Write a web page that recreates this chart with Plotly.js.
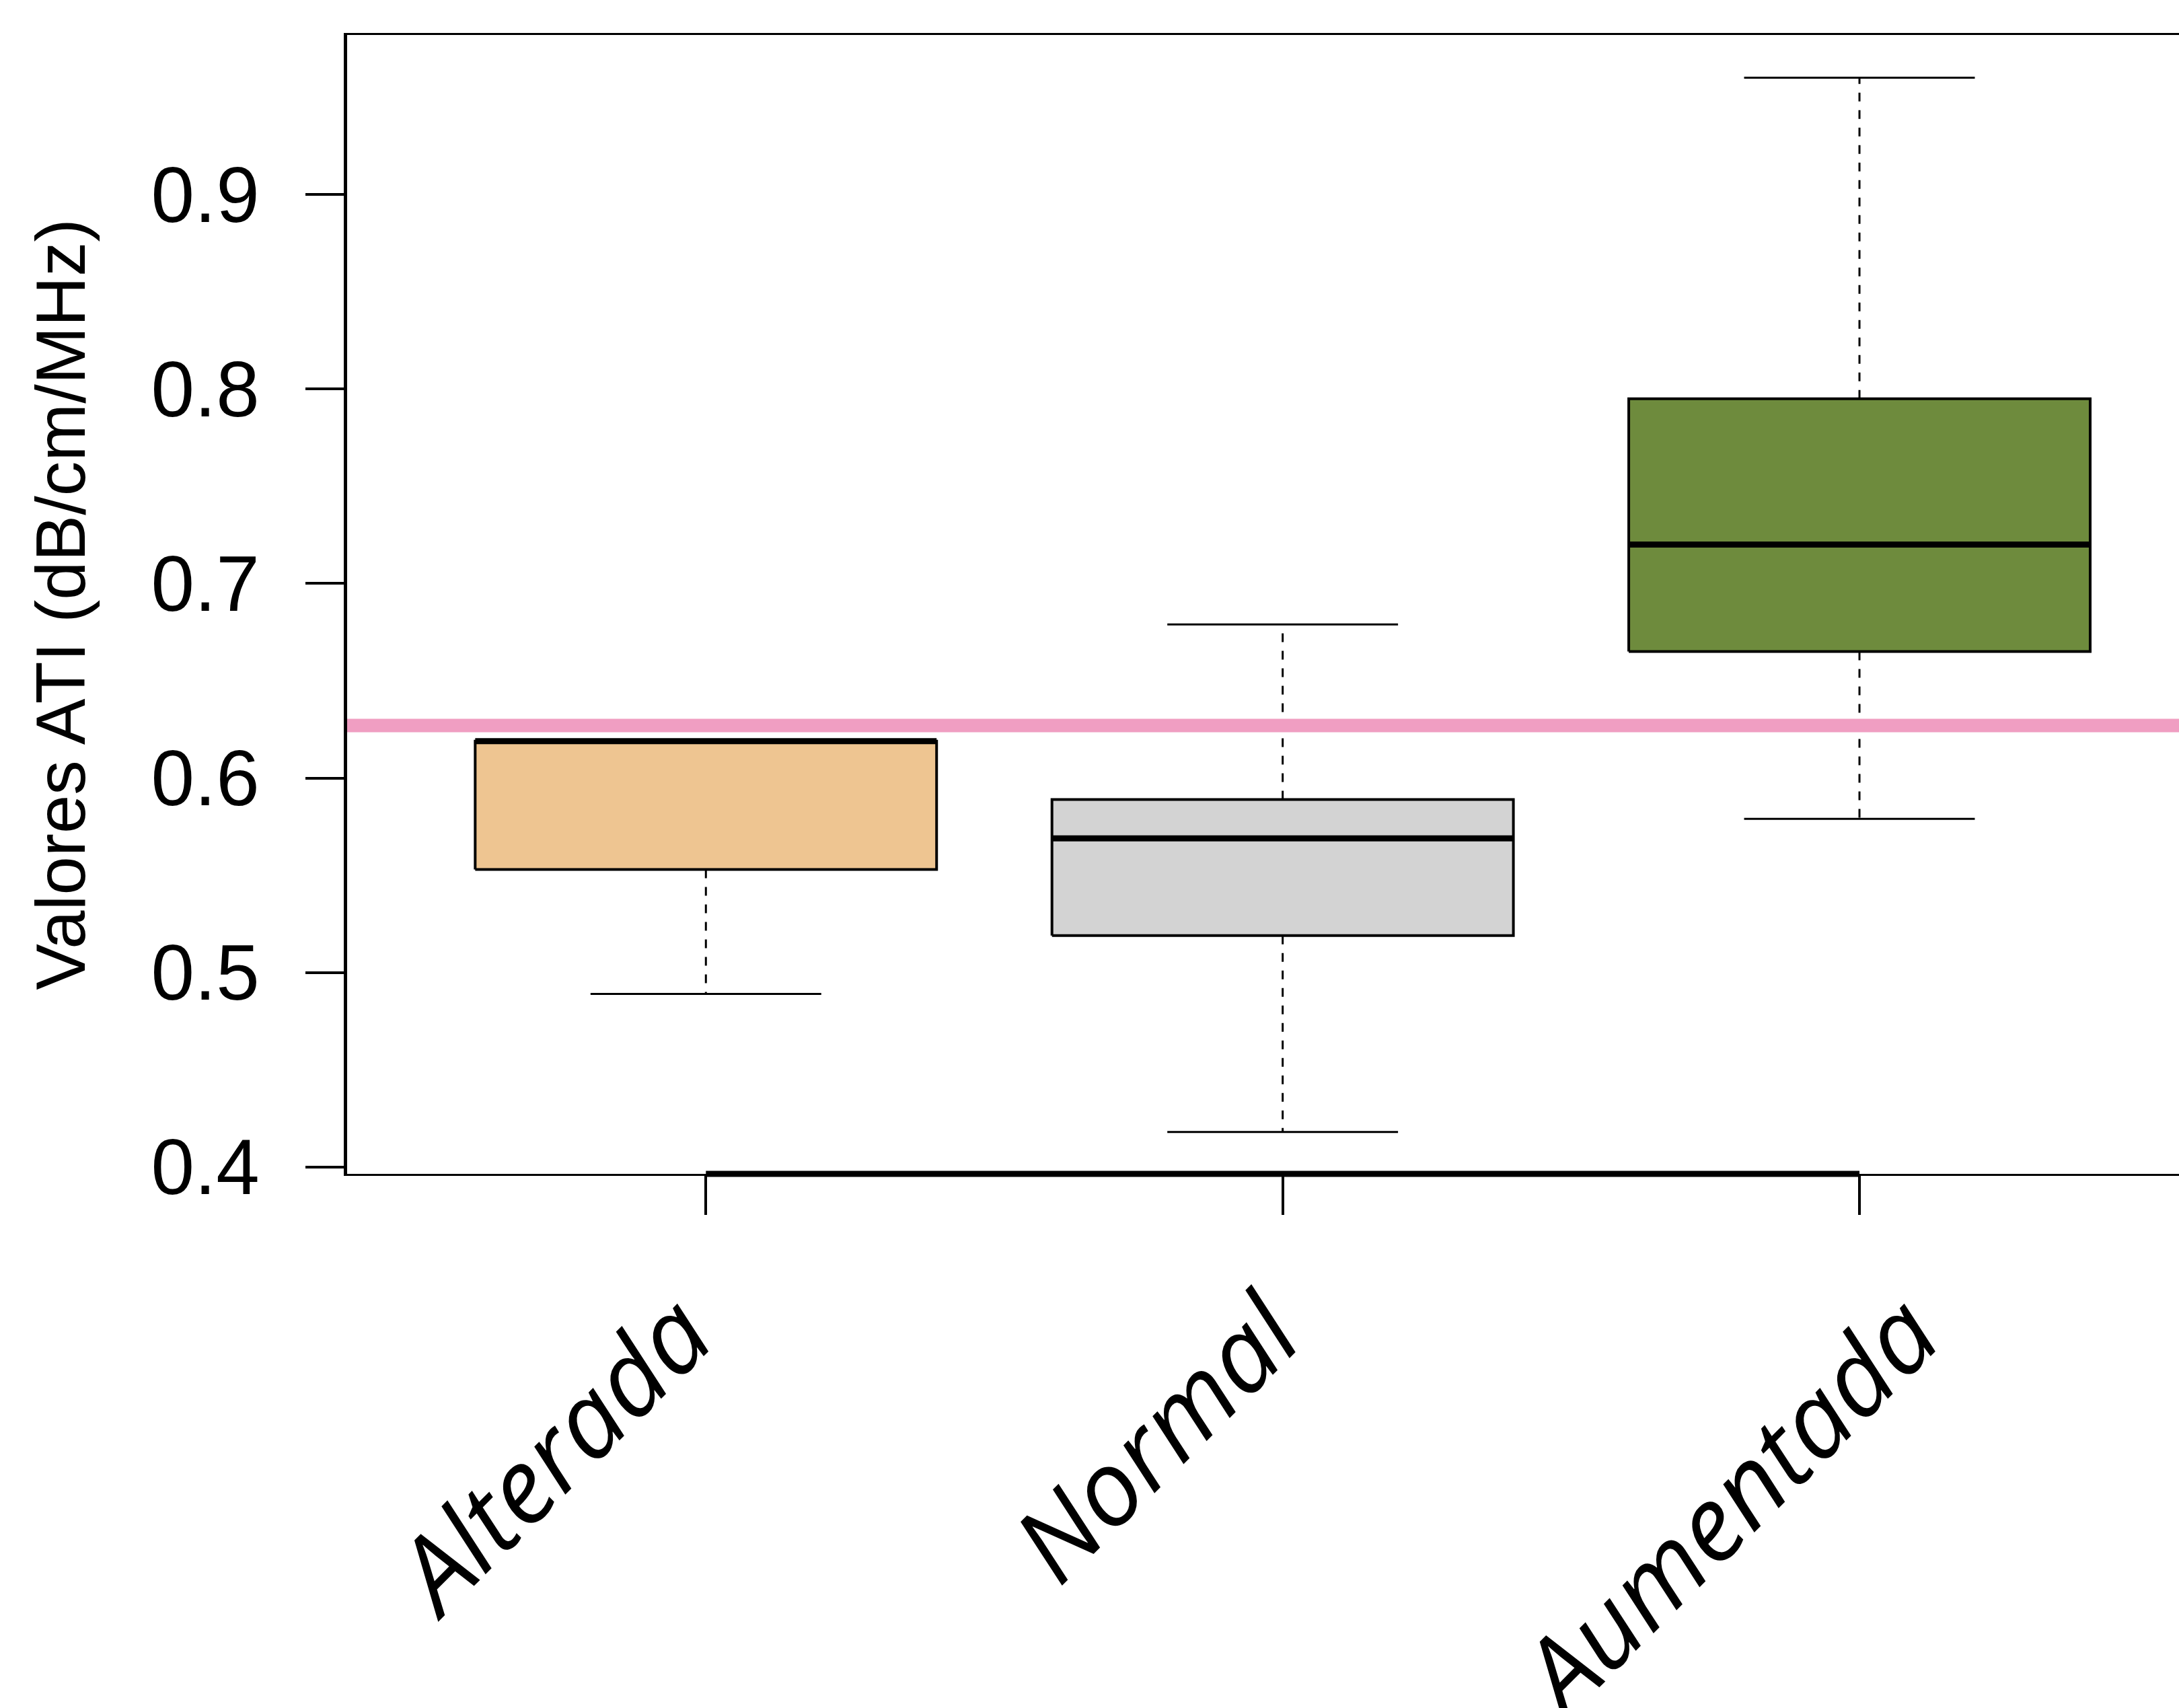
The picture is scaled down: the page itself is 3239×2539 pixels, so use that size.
<!DOCTYPE html>
<html>
<head>
<meta charset="utf-8">
<script src="https://cdn.plot.ly/plotly-3.0.1.min.js"></script>
<style>html,body{margin:0;padding:0;background:#fff;}</style>
</head>
<body>
<div id="chart" style="width:3239px;height:2539px;"></div>
<script>
// ---- data ----
const categories = ["Alterada", "Normal", "Aumentada"];
const lowerWhisker = [0.489, 0.418, 0.579];
const q1Values     = [0.553, 0.519, 0.665];
const medianValues = [0.619, 0.569, 0.720];
const q3Values     = [0.619, 0.589, 0.795];
const upperWhisker = [0.619, 0.679, 0.960];
const fillColors   = ["#EEC591", "#D3D3D3", "#6E8B3D"];
const cutoffValue  = 0.627;
const yTickValues  = [0.4, 0.5, 0.6, 0.7, 0.8, 0.9];
const yTitle = "Valores ATI (dB/cm/MHz)";

// ---- layout constants (label placement, not data) ----
const labelNudge = [-0.019, 0.0, 0.108];   // horizontal nudge of each rotated label, axis units
const boxHalf = 0.4, capHalf = 0.2;

// ---- build traces ----
const traces = [];
const pos = categories.map((c, i) => i + 1);
const labelPos = pos.map((p, i) => p + labelNudge[i]);

// whiskers (dashed) first
categories.forEach((c, i) => {
  const x = pos[i];
  traces.push({x: [x, x], y: [q3Values[i], upperWhisker[i]], mode: "lines", type: "scatter",
    line: {color: "black", width: 3, dash: "13px,13px"}, hoverinfo: "skip", showlegend: false});
  traces.push({x: [x, x], y: [q1Values[i], lowerWhisker[i]], mode: "lines", type: "scatter",
    line: {color: "black", width: 3, dash: "13px,13px"}, hoverinfo: "skip", showlegend: false});
});
// boxes
categories.forEach((c, i) => {
  const x = pos[i];
  traces.push({x: [x - boxHalf, x + boxHalf, x + boxHalf, x - boxHalf, x - boxHalf],
    y: [q1Values[i], q1Values[i], q3Values[i], q3Values[i], q1Values[i]],
    mode: "lines", type: "scatter", fill: "toself", fillcolor: fillColors[i],
    line: {color: "black", width: 4}, name: c, showlegend: false});
});
// medians and caps
categories.forEach((c, i) => {
  const x = pos[i];
  traces.push({x: [x - boxHalf, x + boxHalf], y: [medianValues[i], medianValues[i]], mode: "lines",
    type: "scatter", line: {color: "black", width: 9}, hoverinfo: "skip", showlegend: false});
  traces.push({x: [x - capHalf, x + capHalf], y: [upperWhisker[i], upperWhisker[i]], mode: "lines",
    type: "scatter", line: {color: "black", width: 3}, hoverinfo: "skip", showlegend: false});
  traces.push({x: [x - capHalf, x + capHalf], y: [lowerWhisker[i], lowerWhisker[i]], mode: "lines",
    type: "scatter", line: {color: "black", width: 3}, hoverinfo: "skip", showlegend: false});
});

const layout = {
  width: 3239, height: 2539,
  paper_bgcolor: "white", plot_bgcolor: "white",
  margin: {l: 516, r: 0, t: 52, b: 794, pad: 0},
  showlegend: false,
  font: {family: "Liberation Sans, Arial, sans-serif", color: "black"},
  xaxis: {
    type: "linear", range: [0.378, 3.554], autorange: false,
    tickmode: "array", tickvals: labelPos, ticktext: categories,
    ticks: "outside", ticklen: 58, tickwidth: 3, tickcolor: "rgba(0,0,0,0)",
    minor: {tickmode: "array", tickvals: pos, ticks: "outside", ticklen: 58, tickwidth: 4,
            tickcolor: "black", showgrid: false},
    tickangle: -45, ticklabelstandoff: 25, ticklabelshift: -20,
    tickfont: {family: "Open Sans, Noto Sans, sans-serif", size: 155, style: "italic", color: "black"},
    showline: true, linewidth: 3, linecolor: "black", mirror: true,
    showgrid: false, zeroline: false, automargin: false
  },
  yaxis: {
    range: [0.3965, 0.982], autorange: false,
    tickmode: "array", tickvals: yTickValues, ticktext: yTickValues.map(v => v.toFixed(1)),
    ticks: "outside", ticklen: 57, tickwidth: 4, tickcolor: "black",
    ticklabelstandoff: 45,
    tickfont: {family: "Liberation Sans, Arial, sans-serif", size: 116, color: "black"},
    showline: true, linewidth: 5, linecolor: "black",
    showgrid: false, zeroline: false, automargin: false,
    title: {text: yTitle, font: {family: "Liberation Sans, Arial, sans-serif", size: 103, color: "black"}, standoff: 65}
  },
  shapes: [
    {type: "line", xref: "paper", yref: "y", x0: 0, x1: 1, y0: cutoffValue, y1: cutoffValue,
     line: {color: "#F09EC2", width: 20}, layer: "above"},
    {type: "line", xref: "x", yref: "paper", x0: pos[0], x1: pos[pos.length - 1], y0: 0, y1: 0,
     line: {color: "black", width: 9}, layer: "above"}
  ]
};

Plotly.newPlot("chart", traces, layout, {displayModeBar: false, staticPlot: true});
</script>
</body>
</html>
